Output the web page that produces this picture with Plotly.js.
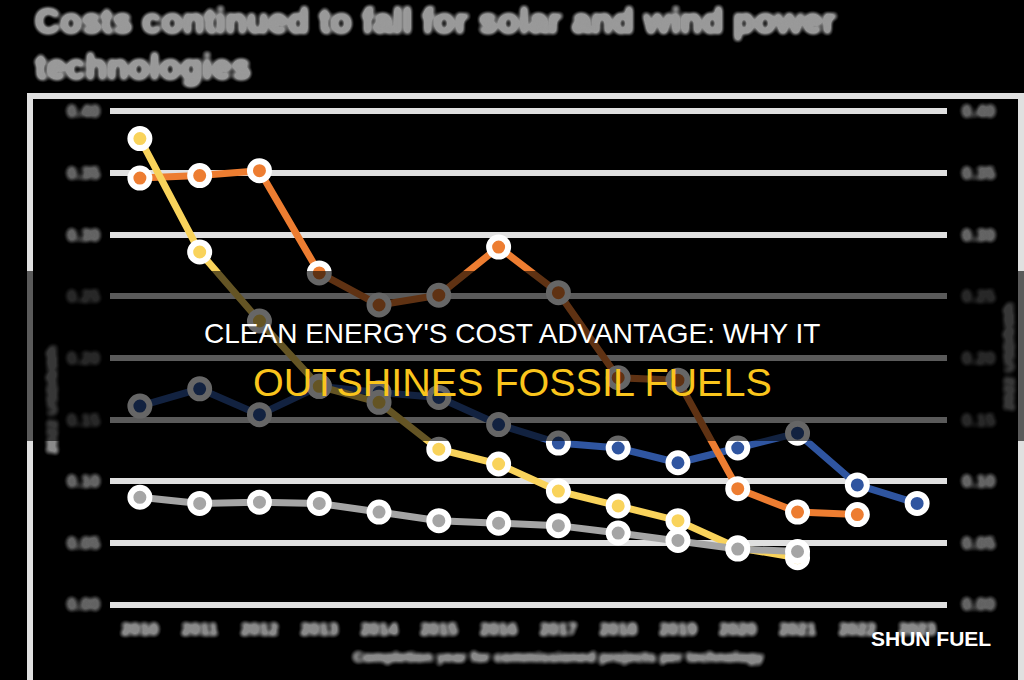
<!DOCTYPE html>
<html>
<head>
<meta charset="utf-8">
<script src="https://cdn.plot.ly/plotly-3.0.1.min.js"></script>
<style>
  html, body { margin: 0; padding: 0; background: #000; }
  #wrap { position: relative; width: 1024px; height: 680px; overflow: hidden; background: #000; }
  #chart, #cover { position: absolute; left: 0; top: 0; width: 1024px; height: 680px; }
  /* soften the chart's own lettering */
  #chart .xtick text, #chart .ytick text, #chart .y2tick text, #chart .gtitle, #chart .annotation { filter: url(#soft); }
</style>
</head>
<body>
<svg width="0" height="0" style="position:absolute">
  <defs>
    <filter id="soft" x="-20%" y="-60%" width="140%" height="220%">
      <feGaussianBlur stdDeviation="2.5"/>
      <feComponentTransfer>
        <feFuncA type="linear" slope="3" intercept="-0.15"/>
      </feComponentTransfer>
    </filter>
  </defs>
</svg>
<div id="wrap">
  <div id="chart"></div>
  <div id="cover"></div>
</div>
<script>
// Completion years (category axis)
const years = ['2010', '2011', '2012', '2013', '2014', '2015', '2016',
               '2017', '2018', '2019', '2020', '2021', '2022', '2023'];

// Levelised cost per technology, USD/kWh
const solarPV    = [0.378, 0.286, 0.230, 0.177, 0.164, 0.126, 0.114, 0.092, 0.080, 0.068, 0.046, 0.038];
const csp        = [0.346, 0.348, 0.352, 0.269, 0.243, 0.251, 0.290, 0.253, 0.184, 0.182, 0.094, 0.075, 0.073];
const offshore   = [0.161, 0.175, 0.154, 0.177, 0.172, 0.168, 0.146, 0.131, 0.127, 0.115, 0.127, 0.139, 0.097, 0.082];
const onshore    = [0.087, 0.082, 0.083, 0.082, 0.075, 0.068, 0.066, 0.064, 0.058, 0.052, 0.045, 0.043];

const yTicks = [0, 0.05, 0.10, 0.15, 0.20, 0.25, 0.30, 0.35, 0.40];
const yTickText = ['0.00', '0.05', '0.10', '0.15', '0.20', '0.25', '0.30', '0.35', '0.40'];

const FONT = 'Liberation Sans, Arial, sans-serif';
const W = 1024, H = 680;
const M = { l: 110, r: 77, t: 110, b: 74 };
const plotW = W - M.l - M.r, plotH = H - M.t - M.b;
// pixel position -> paper fraction
const px = v => (v - M.l) / plotW;
const py = v => (H - M.b - v) / plotH;

function series(name, vals, color) {
  return {
    type: 'scatter', mode: 'lines+markers', name: name,
    x: years.slice(0, vals.length), y: vals,
    line: { color: color, width: 7 },
    marker: { color: color, size: 19, line: { color: '#ffffff', width: 6 } },
    cliponaxis: false, hoverinfo: 'skip'
  };
}

const traces = [
  series('Offshore wind', offshore, '#2F55A0'),
  series('Concentrating solar power', csp, '#ED7D31'),
  series('Solar photovoltaic', solarPV, '#F9D35B'),
  series('Onshore wind', onshore, '#A5A5A5'),
  // carries the right-hand value axis
  { type: 'scatter', mode: 'lines', x: years.slice(0, onshore.length), y: onshore, yaxis: 'y2',
    line: { width: 0 }, opacity: 0, hoverinfo: 'skip', showlegend: false }
];

const tickFontY = { family: FONT, size: 17, color: '#646464', weight: 'bold' };
const yRange = [-0.0012, 0.4012];

const layout = {
  width: W, height: H,
  paper_bgcolor: '#000000', plot_bgcolor: '#000000',
  margin: M,
  showlegend: false,
  title: {
    text: 'Costs continued to fall for solar and wind power<br>technologies',
    xref: 'container', yref: 'container',
    x: 35 / W, xanchor: 'left', y: 1 - 33 / H, yanchor: 'top',
    font: { family: FONT, size: 35, color: '#999999', weight: 'bold' }
  },
  xaxis: {
    type: 'category', categoryorder: 'array', categoryarray: years,
    range: [-0.5, years.length - 0.5],
    showgrid: false, zeroline: false, showline: false, ticks: '',
    tickfont: { family: FONT, size: 17, color: '#8a8a8a', weight: 'bold' },
    ticklabelstandoff: 11, fixedrange: true
  },
  yaxis: {
    range: yRange, tickvals: yTicks, ticktext: yTickText,
    showgrid: true, gridcolor: '#e0e0e0', gridwidth: 6,
    zeroline: false, showline: false, ticks: '',
    tickfont: tickFontY, ticklabelstandoff: 9, fixedrange: true
  },
  yaxis2: {
    overlaying: 'y', side: 'right',
    range: yRange, tickvals: yTicks, ticktext: yTickText,
    showgrid: false, zeroline: false, showline: false, ticks: '',
    tickfont: tickFontY, ticklabelstandoff: 14, fixedrange: true
  },
  shapes: [
    // light outer frame
    { type: 'rect', xref: 'paper', yref: 'paper',
      x0: px(30), x1: px(1021), y0: py(96), y1: py(720),
      line: { color: '#e0e0e0', width: 6 }, fillcolor: 'rgba(0,0,0,0)', layer: 'below' }
  ],
  annotations: [
    { text: '2022 USD/kWh', xref: 'paper', yref: 'paper', x: px(51), y: py(400),
      textangle: -90, showarrow: false, xanchor: 'center', yanchor: 'middle',
      font: { family: FONT, size: 15.5, color: '#8a8a8a', weight: 'bold' } },
    { text: '2022 USD/kWh', xref: 'paper', yref: 'paper', x: px(1008), y: py(357),
      textangle: -90, showarrow: false, xanchor: 'center', yanchor: 'middle',
      font: { family: FONT, size: 15.5, color: '#8a8a8a', weight: 'bold' } },
    { text: 'Completion year for commissioned projects per technology', xref: 'paper', yref: 'paper',
      x: px(558), y: py(657), showarrow: false, xanchor: 'center', yanchor: 'middle',
      font: { family: FONT, size: 14.5, color: '#8a8a8a', weight: 'bold' } }
  ]
};

Plotly.newPlot('chart', traces, layout, { staticPlot: true, displayModeBar: false });

// Headline band laid over the chart
const coverLayout = {
  width: W, height: H,
  paper_bgcolor: 'rgba(0,0,0,0)', plot_bgcolor: 'rgba(0,0,0,0)',
  margin: { l: 0, r: 0, t: 0, b: 0 },
  showlegend: false,
  xaxis: { range: [0, W], visible: false, fixedrange: true },
  yaxis: { range: [H, 0], visible: false, fixedrange: true },
  shapes: [
    { type: 'rect', xref: 'x', yref: 'y', x0: 0, x1: W, y0: 271, y1: 441,
      fillcolor: 'rgba(0,0,0,0.6)', line: { width: 0 }, layer: 'below' }
  ],
  annotations: [
    { text: "CLEAN ENERGY'S COST ADVANTAGE: WHY IT", x: 512, y: 333, xref: 'x', yref: 'y',
      showarrow: false, xanchor: 'center', yanchor: 'middle',
      font: { family: FONT, size: 28, color: '#ffffff' } },
    { text: 'OUTSHINES FOSSIL FUELS', x: 512, y: 382, xref: 'x', yref: 'y',
      showarrow: false, xanchor: 'center', yanchor: 'middle',
      font: { family: FONT, size: 39.5, color: '#FAC51C' } },
    { text: 'SHUN FUEL', x: 931, y: 638, xref: 'x', yref: 'y',
      showarrow: false, xanchor: 'center', yanchor: 'middle',
      font: { family: FONT, size: 21, color: '#ffffff', weight: 'bold' } }
  ]
};

Plotly.newPlot('cover', [], coverLayout, { staticPlot: true, displayModeBar: false });
</script>
</body>
</html>
